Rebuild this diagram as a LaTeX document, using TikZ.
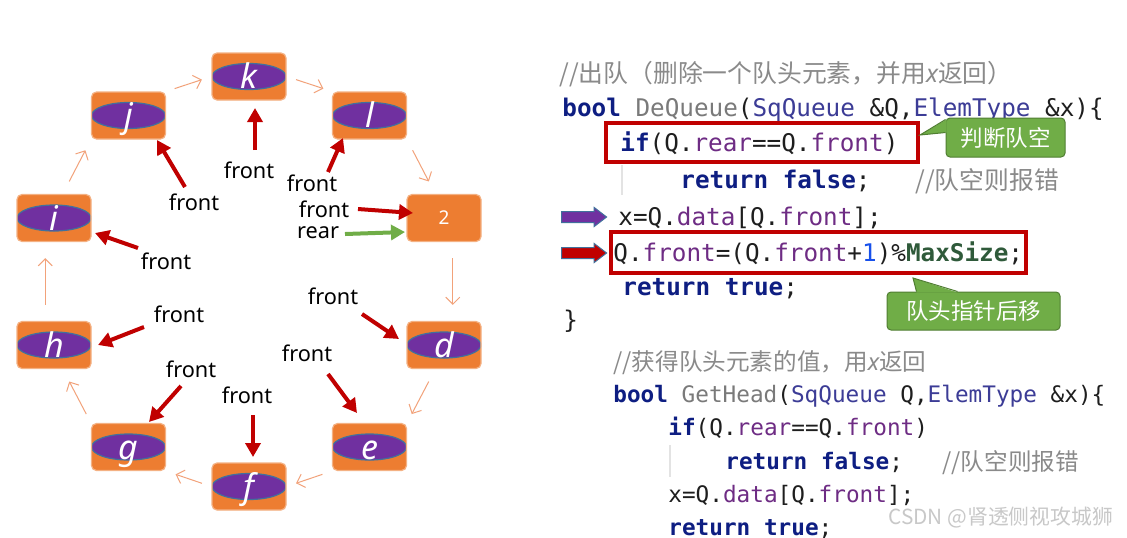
\documentclass[tikz,border=0pt]{standalone}
\usepackage{fontspec}
\setmainfont{Noto Sans}
\setmonofont{DejaVu Sans Mono}
\newfontfamily\cjk{Noto Sans CJK SC}
\usepackage{tikz}
\usetikzlibrary{arrows.meta, shapes, calc}

\definecolor{cellfill}{HTML}{ED7D31}
\definecolor{cellline}{HTML}{F4B183}
\definecolor{ovalfill}{HTML}{7030A0}
\definecolor{ovalline}{HTML}{41719C}
\definecolor{ringline}{HTML}{F2A27A}
\definecolor{ptrred}{HTML}{C00000}
\definecolor{reargreen}{HTML}{70AD47}
\definecolor{noteline}{HTML}{507E32}
\definecolor{kwblue}{HTML}{0E1E82}
\definecolor{fngray}{HTML}{7A7A7A}
\definecolor{tyblue}{HTML}{3C3C96}
\definecolor{mempurple}{HTML}{6E2C84}
\definecolor{numblue}{HTML}{1750EB}
\definecolor{macgreen}{HTML}{2F5A3A}
\definecolor{cmtgray}{HTML}{8A8A8A}
\definecolor{codeblack}{HTML}{1E1E1E}
\definecolor{guidegray}{HTML}{E3E3E3}
\definecolor{markgray}{HTML}{C8C8C8}

\newcommand\ckw[1]{\textcolor{kwblue}{\textbf{#1}}}
\newcommand\cfn[1]{\textcolor{fngray}{#1}}
\newcommand\cty[1]{\textcolor{tyblue}{#1}}
\newcommand\cmem[1]{\textcolor{mempurple}{#1}}
\newcommand\cnum[1]{\textcolor{numblue}{#1}}
\newcommand\cmac[1]{\textcolor{macgreen}{\textbf{#1}}}

\begin{document}
\begin{tikzpicture}[x=0.5pt, y=-0.5pt,
  cellbox/.style={draw=cellline, line width=0.6pt, fill=cellfill, rounded corners=2.5pt, minimum width=37pt, minimum height=23.5pt, inner sep=0pt},
  cell/.style={cellbox, path picture={\draw[ovalline, fill=ovalfill, line width=0.6pt] (path picture bounding box.center) ellipse [x radius=18.5pt, y radius=6.5pt];}, text=white, font=\fontsize{17}{17}\selectfont\itshape, text height=12pt, text depth=0pt},
  ring/.style={draw=ringline, line width=0.5pt, -{Straight Barb[length=3.5pt,width=7pt]}},
  ptr/.style={draw=ptrred, line width=2pt, -{Triangle[length=7pt,width=7.5pt]}},
  tag/.style={inner sep=0pt, font=\fontsize{10.85}{12}\selectfont},
  codeA/.style={anchor=base west, inner sep=0pt, text=codeblack, font=\fontsize{12.15}{14}\ttfamily},
  codeB/.style={anchor=base west, inner sep=0pt, text=codeblack, font=\fontsize{11.35}{13}\ttfamily},
  cmtA/.style={anchor=base west, inner sep=0pt, text=cmtgray, font=\fontsize{12.4}{14}\cjk},
  cmtB/.style={anchor=base west, inner sep=0pt, text=cmtgray, font=\fontsize{11.8}{13}\cjk},
  redframe/.style={draw=ptrred, line width=2pt, inner sep=0pt},
  blockarrow/.style={single arrow, draw=ovalline, line width=0.5pt, minimum height=22.5pt, minimum width=9pt, single arrow head extend=2pt, single arrow tip angle=75, inner sep=2.5pt},
  note/.style={fill=reargreen, draw=noteline, line width=0.5pt, rounded corners=2pt, text=white, font=\fontsize{11.25}{12}\cjk, inner sep=0pt},
  guide/.style={draw=guidegray, line width=0.8pt}]

\path[use as bounding box, fill=white] (0,0) rectangle (1127,537);

% the ring of cells
\node[cell] (k) at (249,76.5) {k};
\node[cell] (j) at (128.5,115.5) {j};
\node[cell] (l) at (369.5,115.5) {l};
\node[cell] (i) at (54,218) {i};
\node[cellbox, text=white, font=\fontsize{9.5}{10}\selectfont] (two) at (444,218) {2};
\node[cell] (h) at (54,345) {h};
\node[cell] (d) at (444,345) {d};
\node[cell] (g) at (128.5,447) {g};
\node[cell] (e) at (369.5,447) {e};
\node[cell] (f) at (249,486.5) {f};

\draw[ring, shorten <=4.5pt, shorten >=5pt] (j.north east) -- (k.west);
\draw[ring, shorten <=5pt, shorten >=4.5pt] (k.east) -- (l.north west);
\draw[ring, shorten <=6pt, shorten >=7pt] (l.south east) -- (two.110);
\draw[ring, shorten <=8pt, shorten >=8pt] (two.-70) -- (d.70);
\draw[ring, shorten <=7pt, shorten >=5pt] (d.-110) -- (e.north east);
\draw[ring, shorten <=5pt, shorten >=5pt] (e.south west) -- (f.east);
\draw[ring, shorten <=5pt, shorten >=5pt] (f.west) -- (g.south east);
\draw[ring, shorten <=5pt, shorten >=7pt] (g.north west) -- (h.-70);
\draw[ring, shorten <=8pt, shorten >=8pt] (h.110) -- (i.-110);
\draw[ring, shorten <=7pt, shorten >=6pt] (i.70) -- (j.south west);

% front / rear pointers
\node[tag] (fk) at (249,170) {front};
\node[tag] (fj) at (194,202) {front};
\node[tag] (fl) at (312,183) {front};
\node[tag] (f2) at (324,209) {front};
\node[tag] (r2) at (318,233) {rear};
\node[tag] (fi) at (166,261) {front};
\node[tag] (fh) at (179,314) {front};
\node[tag] (fd) at (333,296) {front};
\node[tag] (fg) at (191,369) {front};
\node[tag] (ff) at (247,395) {front};
\node[tag] (fe) at (307,353) {front};

\draw[ptr] ([shift={(6,-20)}]fk.center) -- ([shift={(6,31.5)}]k.center);
\draw[ptr] ([shift={(-9,-15)}]fj.center) -- ([shift={(28.5,24.5)}]j.center);
\draw[ptr] ([shift={(16,-11)}]fl.center) -- ([shift={(-26.5,22.5)}]l.center);
\draw[ptr] ([shift={(34,0)}]f2.center) -- ([shift={(-31,-5)}]two.center);
\draw[ptr, draw=reargreen] ([shift={(27,1)}]r2.center) -- ([shift={(-39,14)}]two.center);
\draw[ptr] ([shift={(-28,-13)}]fi.center) -- ([shift={(41,15)}]i.center);
\draw[ptr] ([shift={(-35,13)}]fh.center) -- ([shift={(44,0)}]h.center);
\draw[ptr] ([shift={(29,18)}]fd.center) -- ([shift={(-45,-6)}]d.center);
\draw[ptr] ([shift={(-10,17)}]fg.center) -- ([shift={(20.5,-25)}]g.center);
\draw[ptr] ([shift={(6,20)}]ff.center) -- ([shift={(4,-29.5)}]f.center);
\draw[ptr] ([shift={(21,21)}]fe.center) -- ([shift={(-12.5,-34)}]e.center);

% DeQueue code
\node[cmtA] (cm0) at (559,82) {//出队（删除一个队头元素，并用{\normalfont\itshape x}返回）};
\node[codeA] (dq) at (562,116) {\ckw{bool} \cfn{DeQueue}(\cty{SqQueue} \&Q,\cty{ElemType} \&x)\{};
\node[codeA] (if1) at (620,151) {\ckw{if}(Q.\cmem{rear}==Q.\cmem{front})};
\node[codeA] (rf1) at (680,188) {\ckw{return} \ckw{false};};
\node[cmtA] (cm1) at (915,189) {//队空则报错};
\node[codeA] (xd1) at (618,225) {x=Q.\cmem{data}[Q.\cmem{front}];};
\node[codeA] (qf) at (613,261) {Q.\cmem{front}=(Q.\cmem{front}+\cnum{1})\%\cmac{MaxSize};};
\node[codeA] (rt1) at (622,295) {\ckw{return} \ckw{true};};
\node[codeA] (cb) at (563,328) {\}};
\draw[guide] (622,165) -- (622,195);

\node[redframe, minimum width=156pt, minimum height=19.5pt] (rb1) at (762,142.5) {};
\node[redframe, minimum width=207.5pt, minimum height=20.5pt] (rb2) at (818.5,252.5) {};

\node[blockarrow, fill=ovalfill] (pa) at (580.5,217) {};
\node[blockarrow, fill=ptrred] (ra) at (580.5,253) {};

% callouts
\node[note, minimum width=59.5pt, minimum height=19.5pt] (c1) at (1005.5,137.5) {判断队空};
\fill[reargreen] ([shift={(1,2)}]c1.north west) -- ([shift={(0,-7.5)}]rb1.east) -- ([shift={(1,15)}]c1.north west) -- cycle;
\draw[noteline, line width=0.5pt] ([shift={(0,2)}]c1.north west) -- ([shift={(0,-7.5)}]rb1.east) -- ([shift={(0,15)}]c1.north west);

\node[note, minimum width=86.5pt, minimum height=19pt] (c2) at (973.5,311) {队头指针后移};
\fill[reargreen] ([shift={(30,1)}]c2.north west) -- ([shift={(-115,3)}]rb2.south east) -- ([shift={(71,1)}]c2.north west) -- cycle;
\draw[noteline, line width=0.5pt] ([shift={(30,0)}]c2.north west) -- ([shift={(-115,3)}]rb2.south east) -- ([shift={(71,0)}]c2.north west);

% GetHead code
\node[cmtB] (cm2) at (613,370) {//获得队头元素的值，用{\normalfont\itshape x}返回};
\node[codeB] (gh) at (613,402.5) {\ckw{bool} \cfn{GetHead}(\cty{SqQueue} Q,\cty{ElemType} \&x)\{};
\node[codeB] (if2) at (668,435.5) {\ckw{if}(Q.\cmem{rear}==Q.\cmem{front})};
\node[codeB] (rf2) at (725,469.5) {\ckw{return} \ckw{false};};
\node[cmtB] (cm3) at (942,470) {//队空则报错};
\node[codeB] (xd2) at (668,502.5) {x=Q.\cmem{data}[Q.\cmem{front}];};
\node[codeB] (rt2) at (668,535.5) {\ckw{return} \ckw{true};};
\draw[guide] (670,445) -- (670,477);

\node[anchor=west, inner sep=0pt, text=markgray, font=\fontsize{10.4}{12}\cjk] (wm) at (888,518) {CSDN @肾透侧视攻城狮};
\end{tikzpicture}
\end{document}
